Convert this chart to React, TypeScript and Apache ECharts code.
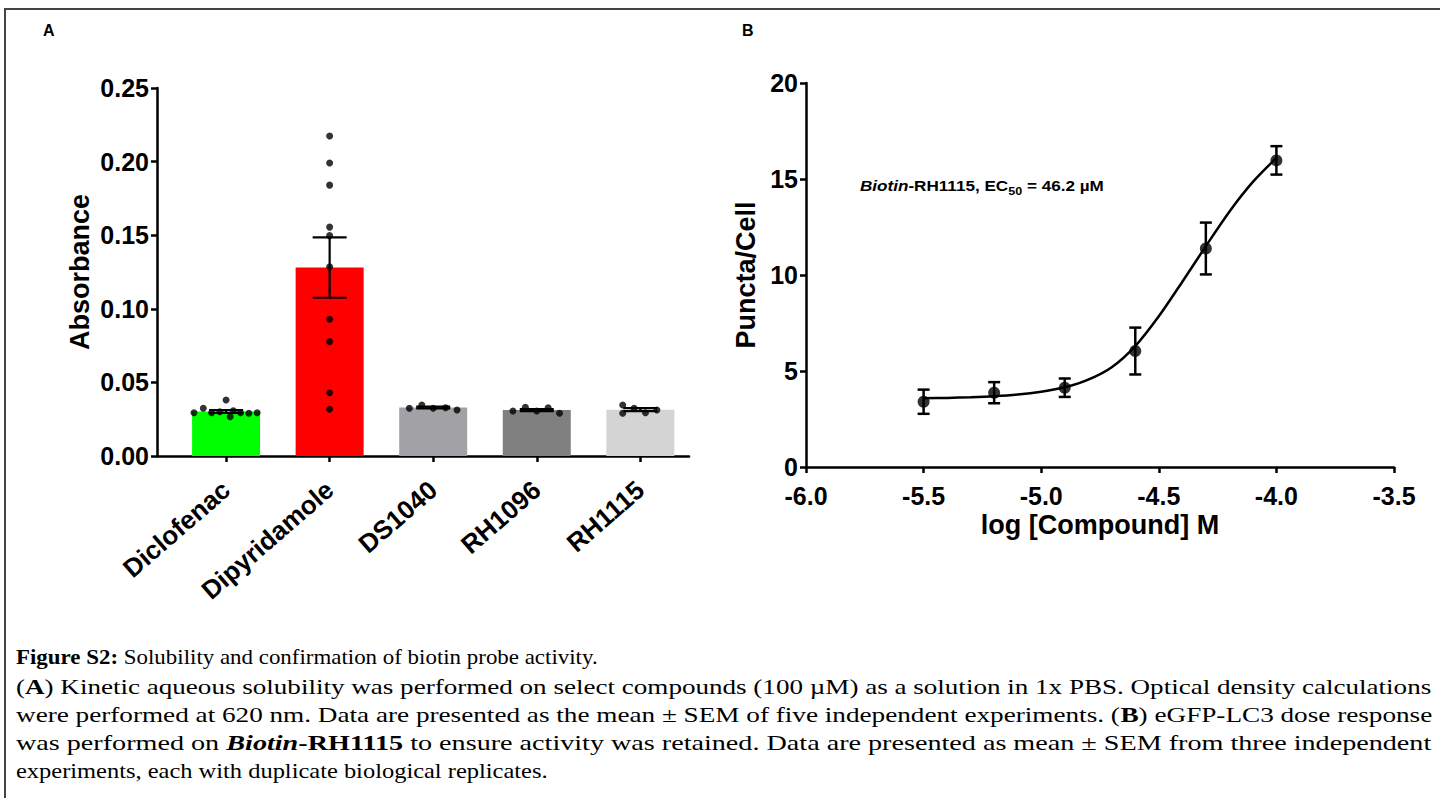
import React, { useEffect, useRef } from "react";
import * as echarts from "echarts";

// ---------- Panel A data ----------
const categories = ["Diclofenac", "Dipyridamole", "DS1040", "RH1096", "RH1115"];
const barMeans = [0.0302, 0.128, 0.033, 0.0312, 0.0315];
const barSem = [0.001, 0.0205, 0.0006, 0.0007, 0.001];
const barColors = ["#00FF00", "#FF0000", "#A2A2A6", "#808080", "#D4D4D4"];

const diclofenacReps = [0.0294, 0.0324, 0.0294, 0.0301, 0.038, 0.0267, 0.0308, 0.0294, 0.029, 0.0294];
const diclofenacJitter = [-0.31, -0.22, -0.14, -0.06, 0, 0.04, 0.07, 0.14, 0.22, 0.3];
const dipyridamoleReps = [0.2174, 0.199, 0.184, 0.1555, 0.1497, 0.1286, 0.0929, 0.0777, 0.043, 0.0317];
const dipyridamoleJitter = [0, 0, 0, 0, 0, 0, 0, 0, 0, 0];
const ds1040Reps = [0.0324, 0.0346, 0.0324, 0.0328, 0.0312];
const ds1040Jitter = [-0.23, -0.11, 0, 0.12, 0.23];
const rh1096Reps = [0.0306, 0.0331, 0.0306, 0.0328, 0.029];
const rh1096Jitter = [-0.23, -0.11, 0, 0.11, 0.22];
const rh1115Reps = [0.0346, 0.029, 0.0324, 0.0294, 0.0312];
const rh1115Jitter = [-0.17, -0.17, -0.06, 0.05, 0.16];

const yTicksA = [0, 0.05, 0.1, 0.15, 0.2, 0.25];

// ---------- Panel B data ----------
const logDose = [-5.5, -5.2, -4.9, -4.6, -4.3, -4.0];
const punctaMean = [3.4, 3.87, 4.13, 6.04, 11.38, 15.97];
const punctaSem = [0.63, 0.55, 0.48, 1.22, 1.35, 0.74];
const fitX = [-5.5, -5.4, -5.3, -5.2, -5.1, -5.0, -4.9, -4.8, -4.7, -4.6, -4.5, -4.4, -4.3, -4.2, -4.1, -4.0];
const fitY = [3.58, 3.6, 3.63, 3.68, 3.77, 3.92, 4.15, 4.55, 5.2, 6.3, 7.85, 9.65, 11.5, 13.3, 14.85, 16.1];

// ---------- Caption ----------
type Seg = [string, string];
const captionLines: Seg[][] = [
  [["b", "Figure S2:"], ["n", " Solubility and confirmation of biotin probe activity."]],
  [["n", "("], ["b", "A"], ["n", ") Kinetic aqueous solubility was performed on select compounds (100 µM) as a solution in 1x PBS. Optical density calculations"]],
  [["n", "were performed at 620 nm. Data are presented as the mean ± SEM of five independent experiments. ("], ["b", "B"], ["n", ") eGFP-LC3 dose response"]],
  [["n", "was performed on "], ["bi", "Biotin"], ["b", "-RH1115"], ["n", " to ensure activity was retained. Data are presented as mean ± SEM from three independent"]],
  [["n", "experiments, each with duplicate biological replicates."]],
];

const SANS = '"Liberation Sans", Arial, Helvetica, sans-serif';
const SERIF = '"Liberation Serif", "Times New Roman", serif';

export default function App() {
  const ref = useRef<HTMLDivElement>(null);

  useEffect(() => {
    if (!ref.current) return;
    const chart = echarts.init(ref.current, null, { renderer: "svg" });

    const axisLine = { color: "#000", width: 2.5 };
    const tickLabel = { color: "#000", fontSize: 25, fontWeight: "bold" as const, fontFamily: SANS };
    const nameStyle = { color: "#000", fontSize: 27, fontWeight: "bold" as const, fontFamily: SANS };

    const repSets = [
      [diclofenacReps, diclofenacJitter],
      [dipyridamoleReps, dipyridamoleJitter],
      [ds1040Reps, ds1040Jitter],
      [rh1096Reps, rh1096Jitter],
      [rh1115Reps, rh1115Jitter],
    ];
    const dots: number[][] = [];
    repSets.forEach(([vals, jit], i) => {
      vals.forEach((v, k) => dots.push([i + jit[k], v]));
    });

    const errRender = (cap: number, lw: number) => (params: any, api: any) => {
      const x = api.value(0);
      const m = api.value(1);
      const s = api.value(2);
      const top = api.coord([x, m + s]);
      const bot = api.coord([x, m - s]);
      const hw = cap / 2;
      const st = { stroke: "#000", lineWidth: lw };
      return {
        type: "group",
        children: [
          { type: "line", shape: { x1: top[0], y1: top[1], x2: bot[0], y2: bot[1] }, style: st },
          { type: "line", shape: { x1: top[0] - hw, y1: top[1], x2: top[0] + hw, y2: top[1] }, style: st },
          { type: "line", shape: { x1: bot[0] - hw, y1: bot[1], x2: bot[0] + hw, y2: bot[1] }, style: st },
        ],
      };
    };

    // caption measurement
    const canvas = document.createElement("canvas");
    const ctx = canvas.getContext("2d")!;
    const fontOf: Record<string, string> = {
      n: `22px ${SERIF}`,
      b: `bold 22px ${SERIF}`,
      bi: `italic bold 22px ${SERIF}`,
    };
    const measure = (segs: Seg[]) => {
      let w = 0;
      for (const [k, t] of segs) {
        ctx.font = fontOf[k];
        w += ctx.measureText(t).width;
      }
      return w;
    };
    const captionY = [657, 686, 714, 742, 770];
    const captionTargetW = [582, 1416, 1416, 1416, 532];
    const captionEls = captionLines.map((segs, i) => {
      const w = measure(segs) || 1;
      const scale = captionTargetW[i] / w;
      return {
        type: "text",
        x: 16,
        y: captionY[i],
        scaleX: scale,
        style: {
          text: segs.map(([k, t]) => `{${k}|${t}}`).join(""),
          verticalAlign: "middle",
          fill: "#000",
          rich: {
            n: { fontSize: 22, fontFamily: SERIF, fill: "#000" },
            b: { fontSize: 22, fontFamily: SERIF, fontWeight: "bold", fill: "#000" },
            bi: { fontSize: 22, fontFamily: SERIF, fontWeight: "bold", fontStyle: "italic", fill: "#000" },
          },
        },
      };
    });

    const option: any = {
      animation: false,
      backgroundColor: "#fff",
      grid: [
        { left: 157, top: 88, width: 532, height: 368 },
        { left: 806, top: 83, width: 588, height: 384 },
      ],
      xAxis: [
        {
          type: "value",
          gridIndex: 0,
          min: -0.667,
          max: 4.47,
          splitLine: { show: false },
          axisLine: { show: true, onZero: false, lineStyle: axisLine },
          axisTick: { show: true, customValues: [0, 1, 2, 3, 4], length: 6, lineStyle: axisLine },
          axisLabel: {
            ...tickLabel,
            fontSize: 26,
            customValues: [0, 1, 2, 3, 4],
            formatter: (v: number) => categories[Math.round(v)] ?? "",
            rotate: 41,
            margin: 30,
          },
        },
        {
          type: "value",
          gridIndex: 1,
          min: -6,
          max: -3.5,
          interval: 0.5,
          splitLine: { show: false },
          axisLine: { show: true, onZero: false, lineStyle: axisLine },
          axisTick: { show: true, length: 6, lineStyle: axisLine },
          axisLabel: { ...tickLabel, margin: 16, formatter: (v: number) => v.toFixed(1) },
          name: "log [Compound] M",
          nameLocation: "middle",
          nameGap: 44,
          nameTextStyle: nameStyle,
        },
      ],
      yAxis: [
        {
          type: "value",
          gridIndex: 0,
          min: yTicksA[0],
          max: yTicksA[yTicksA.length - 1],
          interval: 0.05,
          splitLine: { show: false },
          axisLine: { show: true, onZero: false, lineStyle: axisLine },
          axisTick: { show: true, length: 6, lineStyle: axisLine },
          axisLabel: { ...tickLabel, margin: 8, formatter: (v: number) => v.toFixed(2) },
          name: "Absorbance",
          nameLocation: "middle",
          nameGap: 64,
          nameTextStyle: nameStyle,
        },
        {
          type: "value",
          gridIndex: 1,
          min: 0,
          max: 20,
          interval: 5,
          splitLine: { show: false },
          axisLine: { show: true, onZero: false, lineStyle: axisLine },
          axisTick: { show: true, length: 6, lineStyle: axisLine },
          axisLabel: { ...tickLabel, margin: 8 },
          name: "Puncta/Cell",
          nameLocation: "middle",
          nameGap: 47,
          nameTextStyle: nameStyle,
        },
      ],
      series: [
        {
          type: "bar",
          xAxisIndex: 0,
          yAxisIndex: 0,
          barWidth: 68,
          data: categories.map((c, i) => ({ name: c, value: [i, barMeans[i]], itemStyle: { color: barColors[i] } })),
          z: 1,
        },
        {
          type: "scatter",
          xAxisIndex: 0,
          yAxisIndex: 0,
          symbolSize: 7,
          itemStyle: { color: "#000" },
          data: dots,
          z: 3,
        },
        {
          type: "custom",
          xAxisIndex: 0,
          yAxisIndex: 0,
          renderItem: errRender(34, 2.2),
          encode: { x: 0, y: 1 },
          data: barMeans.map((m, i) => [i, m, barSem[i]]),
          z: 4,
        },
        {
          type: "line",
          xAxisIndex: 1,
          yAxisIndex: 1,
          smooth: 0.3,
          showSymbol: false,
          symbol: "none",
          lineStyle: { color: "#000", width: 2.5 },
          data: fitX.map((x, i) => [x, fitY[i]]),
          z: 2,
        },
        {
          type: "custom",
          xAxisIndex: 1,
          yAxisIndex: 1,
          renderItem: errRender(12, 2.5),
          encode: { x: 0, y: 1 },
          data: logDose.map((x, i) => [x, punctaMean[i], punctaSem[i]]),
          z: 3,
        },
        {
          type: "scatter",
          xAxisIndex: 1,
          yAxisIndex: 1,
          symbolSize: 12,
          itemStyle: { color: "#000" },
          data: logDose.map((x, i) => [x, punctaMean[i]]),
          z: 4,
        },
      ],
      graphic: [
        {
          type: "polyline",
          shape: { points: [[5, 800], [5, 9], [1442, 9]] },
          style: { stroke: "#444", lineWidth: 2, fill: null },
          silent: true,
        },
        {
          type: "text",
          x: 43,
          y: 30,
          style: { text: "A", fontSize: 16, fontWeight: "bold", fontFamily: SANS, fill: "#000", verticalAlign: "middle" },
        },
        {
          type: "text",
          x: 742,
          y: 30,
          style: { text: "B", fontSize: 16, fontWeight: "bold", fontFamily: SANS, fill: "#000", verticalAlign: "middle" },
        },
        {
          type: "text",
          x: 860,
          y: 183,
          scaleX: 1.14,
          style: {
            text: "{i|Biotin}{b|-RH1115, EC}{s|50}{b| = 46.2 µM}",
            verticalAlign: "middle",
            rich: {
              i: { fontSize: 15, fontWeight: "bold", fontStyle: "italic", fontFamily: SANS, fill: "#000", lineHeight: 19, verticalAlign: "bottom" },
              b: { fontSize: 15, fontWeight: "bold", fontFamily: SANS, fill: "#000", lineHeight: 19, verticalAlign: "bottom" },
              s: { fontSize: 11, fontWeight: "bold", fontFamily: SANS, fill: "#000", lineHeight: 19, verticalAlign: "bottom", padding: [0, 0, -4, 0] },
            },
          },
        },
        ...captionEls,
      ],
    };

    chart.setOption(option);
    return () => chart.dispose();
  }, []);

  return (
    <div
      ref={ref}
      style={{ position: "fixed", left: 0, top: 0, width: 1440, height: 798, background: "#fff" }}
    />
  );
}
